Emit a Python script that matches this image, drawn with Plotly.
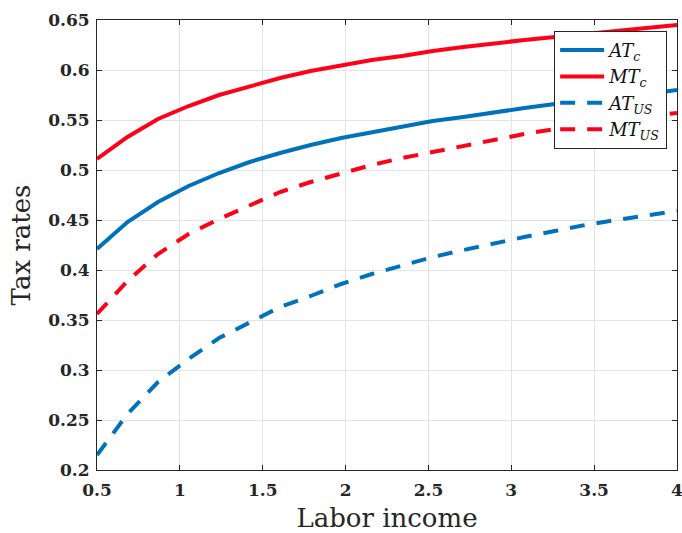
import plotly.graph_objects as go

labor_income = [0.5, 0.684, 0.868, 1.053, 1.237, 1.421, 1.605, 1.789, 1.974, 2.158,
                2.342, 2.526, 2.711, 2.895, 3.079, 3.263, 3.447, 3.632, 3.816, 4.0]

at_c = [0.421, 0.448, 0.468, 0.484, 0.497, 0.508, 0.517, 0.525, 0.532, 0.538,
        0.544, 0.549, 0.553, 0.558, 0.562, 0.566, 0.569, 0.572, 0.576, 0.580]
mt_c = [0.511, 0.533, 0.551, 0.564, 0.575, 0.584, 0.592, 0.599, 0.605, 0.610,
        0.614, 0.619, 0.623, 0.627, 0.630, 0.633, 0.636, 0.639, 0.642, 0.645]
at_us = [0.215, 0.256, 0.288, 0.311, 0.332, 0.348, 0.363, 0.374, 0.386, 0.396,
         0.404, 0.413, 0.420, 0.427, 0.433, 0.439, 0.445, 0.450, 0.455, 0.459]
mt_us = [0.356, 0.389, 0.416, 0.436, 0.451, 0.465, 0.478, 0.488, 0.497, 0.505,
         0.512, 0.518, 0.524, 0.531, 0.536, 0.541, 0.546, 0.550, 0.554, 0.557]

x_ticks = [0.5, 1, 1.5, 2, 2.5, 3, 3.5, 4]
x_tick_labels = ["0.5", "1", "1.5", "2", "2.5", "3", "3.5", "4"]
y_ticks = [0.2, 0.25, 0.3, 0.35, 0.4, 0.45, 0.5, 0.55, 0.6, 0.65]
y_tick_labels = ["0.2", "0.25", "0.3", "0.35", "0.4", "0.45", "0.5", "0.55", "0.6", "0.65"]

names = ["<i>AT<sub>c</sub></i>", "<i>MT<sub>c</sub></i>",
         "<i>AT<sub>US</sub></i>", "<i>MT<sub>US</sub></i>"]

BLUE = "#0072BD"
RED = "#FF0019"
DASH = "15px,12px"

fig = go.Figure()
series = [(at_c, BLUE, "solid"), (mt_c, RED, "solid"),
          (at_us, BLUE, DASH), (mt_us, RED, DASH)]
for (vals, col, dash), nm in zip(series, names):
    fig.add_trace(go.Scatter(x=labor_income, y=vals, mode="lines", name=nm,
                             line=dict(color=col, width=4, dash=dash)))

axis_common = dict(
    showline=True, linecolor="#262626", linewidth=1, mirror="ticks",
    ticks="inside", ticklen=5, tickcolor="#262626", tickwidth=1,
    showgrid=True, gridcolor="#e3e3e3", gridwidth=1, zeroline=False,
    ticklabeloverflow="allow", automargin=False,
    tickfont=dict(family="DejaVu Serif", size=17, color="#262626", weight="bold"),
)

fig.update_layout(
    width=682, height=533,
    margin=dict(l=97, r=5, t=20, b=63, autoexpand=False),
    plot_bgcolor="white", paper_bgcolor="white",
    xaxis=dict(range=[0.5, 4], tickvals=x_ticks, ticktext=x_tick_labels,
               ticklabelstandoff=5,
               title=dict(text="Labor income", standoff=9,
                          font=dict(family="DejaVu Serif", size=26, color="#262626")),
               **axis_common),
    yaxis=dict(range=[0.2, 0.65], tickvals=y_ticks, ticktext=y_tick_labels,
               ticklabelstandoff=3,
               title=dict(text="Tax rates", standoff=10,
                          font=dict(family="DejaVu Serif", size=26, color="#262626")),
               **axis_common),
    legend=dict(x=0.983, y=0.976, xanchor="right", yanchor="top",
                bgcolor="white", bordercolor="#262626", borderwidth=1,
                font=dict(family="DejaVu Serif", size=18, color="#111111"),
                itemwidth=44, tracegroupgap=0),
    showlegend=True,
)

fig.write_html("out.html", config={"displayModeBar": False},
               post_script="document.body.style.margin='0';document.body.style.overflow='hidden';")
